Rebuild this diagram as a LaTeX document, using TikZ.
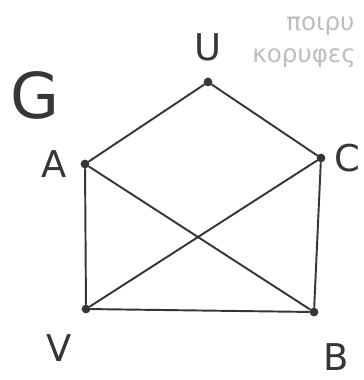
\documentclass[tikz,border=0pt]{standalone}
\usepackage{fontspec}
\setsansfont{DejaVu Sans}
\newfontfamily\greekhand{DejaVu Sans}
\usetikzlibrary{positioning}
\definecolor{Ink}{HTML}{363636}
\definecolor{Faint}{HTML}{BDBDBD}
\tikzset{vertex/.style={circle,fill=Ink,minimum size=5pt,inner sep=0pt},edge/.style={draw=Ink,line width=1.1pt,line cap=round},lbl/.style={font=\sffamily\fontsize{21}{21}\selectfont,text=Ink,inner sep=0pt},ghost/.style={font=\greekhand\fontsize{14}{14}\selectfont,text=Faint,inner sep=0pt,anchor=west}}

\begin{document}
\begin{tikzpicture}[x=.02cm,y=-.02cm]
        \useasboundingbox(0,0)rectangle(364,380);
        \node[ghost](back1)at(286,26){ποιρυ};
        \node[ghost](back2)at(252,58){κορυφες};
        \node[vertex](u)at(208,82){};
        \node[vertex](a)at(85,164){};
        \node[vertex](c)at(321,158){};
        \node[vertex](v)at(86,309){};
        \node[vertex](b)at(314,312){};
        \draw[edge](u)--(a);
        \draw[edge](u)--(c);
        \draw[edge](a)--(v);
        \draw[edge](a)--(b);
        \draw[edge](c)--(v);
        \draw[edge](c)--(b);
        \draw[edge](v)--(b);
        \node[lbl,font=\sffamily\fontsize{36}{36}\selectfont](g)at(35,95){G};
        \node[lbl,above=.32cm of u](ulbl){U};
        \node[lbl,left=.26cm of a](albl){A};
        \node[lbl,right=.17cm of c](clbl){C};
        \node[lbl,below left=.44cm and .21cm of v](vlbl){V};
        \node[lbl,below right=.56cm and .11cm of b](blbl){B};
      \end{tikzpicture}
\end{document}
